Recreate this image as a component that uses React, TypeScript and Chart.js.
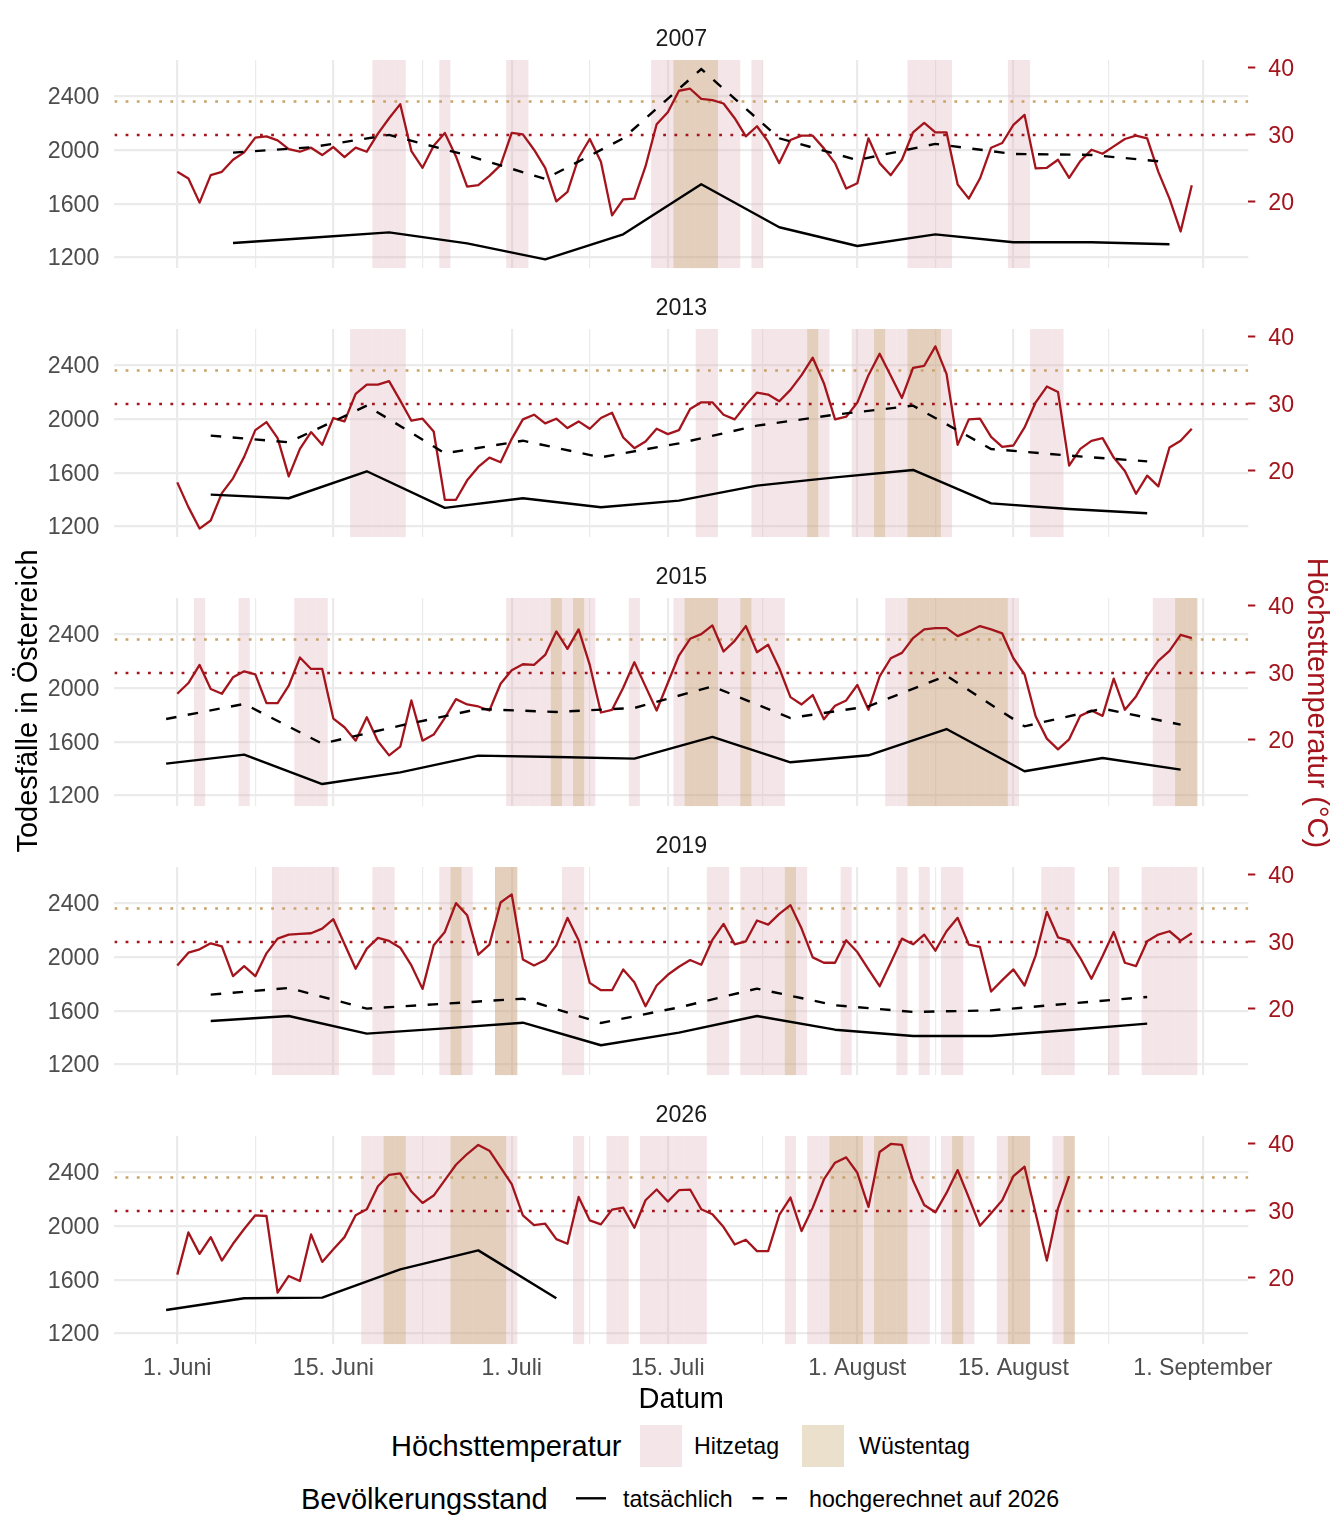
import React, { useEffect, useRef } from 'react';
import { Chart, registerables } from 'chart.js';

Chart.register(...registerables);

const FONT = "'Liberation Sans', Arial, Helvetica, sans-serif";
const RED = '#a4141c';
const TAN = '#c9a46a';
const GRID = '#ebebeb';
const TICK_TEXT = '#4d4d4d';
const HOT_FILL = 'rgba(218,172,178,0.3)';
const DESERT_FILL = 'rgba(188,152,85,0.3)';
const HOT_KEY = '#f4e6e8';
const DESERT_KEY = '#ebe0cc';

// axis ranges
const X_MIN = -5.64;
const X_MAX = 96.07;
const Y_MIN = 1118;
const Y_MAX = 2670.5;
const T_MIN = 10.1;
const T_MAX = 41.19;
const HEAT_DAY = 30;
const DESERT_DAY = 35;

// x axis: day index 0 = 1. Juni
const MAJOR_DAYS = [0, 14, 30, 44, 61, 75, 92];
const MAJOR_LABELS = ['1. Juni', '15. Juni', '1. Juli', '15. Juli', '1. August', '15. August', '1. September'];
const MINOR_DAYS = [7, 22, 37, 52.5, 68, 83.5];
const Y_GRID = [1200, 1400, 1600, 1800, 2000, 2200, 2400, 2600];
const Y_LABELS = [1200, 1600, 2000, 2400];
const TEMP_TICKS = [20, 30, 40];

const YEARS = ['2007', '2013', '2015', '2019', '2026'];

// daily maximum temperature (°C), from 1. Juni
const TEMP_2007 = [24.5, 23.5, 19.9, 24.0, 24.5, 26.3, 27.4, 29.6, 29.8, 29.2,
  27.9, 27.5, 28.1, 27.0, 28.2, 26.7, 28.1, 27.5, 30.2, 32.5,
  34.6, 27.6, 25.1, 28.4, 30.3, 26.8, 22.3, 22.5, 23.9, 25.5,
  30.3, 30.1, 27.8, 25.1, 20.1, 21.5, 26.6, 29.4, 26.0, 18.0,
  20.4, 20.5, 25.3, 31.6, 33.4, 36.6, 36.9, 35.4, 35.2, 34.7,
  32.5, 29.8, 31.3, 29.0, 25.8, 29.25, 29.9, 29.9, 28.0, 25.8,
  22.0, 22.8, 29.5, 25.8, 24.0, 26.3, 30.4, 31.8, 30.4, 30.4,
  22.6, 20.5, 23.5, 28.1, 28.8, 31.5, 33.0, 25.0, 25.1, 26.3,
  23.6, 26.1, 27.8, 27.2, 28.3, 29.4, 29.9, 29.5, 24.5, 20.5,
  15.6, 22.5];
const TEMP_2013 = [18.3, 14.6, 11.4, 12.6, 16.7, 18.9, 22.1, 26.1, 27.3, 24.9,
  19.2, 23.3, 25.8, 23.9, 27.9, 27.4, 31.5, 32.9, 32.9, 33.4,
  30.5, 27.5, 27.8, 25.9, 15.7, 15.7, 18.6, 20.6, 22.0, 21.3,
  24.8, 27.7, 28.4, 27.1, 27.8, 26.4, 27.4, 26.3, 27.9, 28.7,
  25.0, 23.4, 24.4, 26.3, 25.5, 26.1, 29.25, 30.25, 30.25, 28.4,
  27.7, 29.85, 31.7, 31.4, 30.4, 32.1, 34.3, 36.9, 33.1, 27.7,
  28.1, 30.2, 34.3, 37.5, 34.2, 30.9, 35.4, 35.7, 38.6, 34.5,
  23.9, 27.7, 27.8, 25.1, 23.6, 23.8, 26.5, 30.25, 32.6, 31.8,
  20.8, 23.3, 24.5, 24.9, 22.0, 20.0, 16.6, 19.3, 17.7, 23.5,
  24.5, 26.3];
const TEMP_2015 = [26.9, 28.5, 31.2, 27.6, 26.9, 29.35, 30.25, 29.8, 25.5, 25.5,
  28.1, 32.3, 30.6, 30.6, 23.2, 21.9, 19.9, 23.4, 19.8, 17.7,
  19.0, 25.9, 19.9, 20.8, 23.3, 26.1, 25.3, 25.0, 24.4, 28.4,
  30.4, 31.3, 31.2, 32.7, 36.2, 33.6, 36.5, 31.2, 24.1, 24.5,
  27.8, 31.6, 28.0, 24.4, 28.5, 32.6, 35.1, 35.8, 37.1, 33.2,
  34.8, 37.0, 33.1, 34.2, 30.7, 26.4, 25.3, 26.7, 23.1, 25.1,
  25.9, 28.2, 24.5, 29.5, 32.2, 33.0, 35.2, 36.5, 36.7, 36.7,
  35.5, 36.2, 37.0, 36.5, 35.9, 32.2, 29.8, 23.5, 20.2, 18.6,
  20.1, 23.6, 24.4, 23.6, 29.15, 24.5, 26.5, 29.5, 31.8, 33.3,
  35.7, 35.2];
const TEMP_2019 = [26.5, 28.4, 28.9, 29.8, 29.35, 24.9, 26.4, 24.9, 28.3, 30.5,
  31.1, 31.2, 31.3, 32.0, 33.4, 29.7, 26.0, 29.0, 30.6, 30.15,
  29.15, 26.5, 23.0, 29.5, 31.5, 35.8, 34.0, 28.1, 29.6, 35.9,
  37.1, 27.4, 26.5, 27.3, 29.5, 33.6, 30.25, 23.9, 22.8, 22.8,
  25.9, 24.0, 20.4, 23.5, 25.1, 26.3, 27.3, 26.6, 30.3, 32.7,
  29.65, 30.1, 33.2, 32.6, 34.2, 35.5, 32.0, 27.7, 26.9, 26.9,
  30.25, 28.5, 25.9, 23.4, 26.9, 30.5, 29.65, 31.1, 28.7, 31.6,
  33.6, 29.6, 29.25, 22.6, 24.3, 25.9, 23.5, 28.0, 34.5, 30.7,
  30.2, 27.6, 24.5, 27.9, 31.5, 26.9, 26.4, 30.1, 31.1, 31.6,
  30.2, 31.3];
const TEMP_2026 = [20.5, 26.8, 23.6, 26.1, 22.6, 25.1, 27.3, 29.35, 29.25, 17.8,
  20.3, 19.55, 26.5, 22.4, 24.3, 26.1, 29.35, 30.25, 33.7, 35.4,
  35.6, 32.9, 31.2, 32.3, 34.6, 36.9, 38.5, 39.85, 39.0, 36.5,
  34.0, 29.35, 27.9, 28.1, 25.8, 25.1, 32.1, 28.6, 28.0, 30.2,
  30.5, 27.5, 31.6, 33.2, 31.4, 33.1, 33.2, 30.25, 29.5, 27.6,
  25.0, 25.7, 24.0, 24.0, 29.4, 32.0, 27.0, 30.5, 34.7, 37.2,
  38.0, 35.7, 30.6, 38.8, 40.0, 39.85, 34.5, 30.9, 29.8, 32.7,
  36.1, 32.0, 27.8, 29.65, 31.6, 35.2, 36.6, 29.6, 22.6, 30.4,
  35.2];

// weekly deaths: day index of each week, actual deaths, deaths projected to 2026 population
const WEEKS_2007 = [5, 12, 19, 26, 33, 40, 47, 54, 61, 68, 75, 82, 89];
const ACTUAL_2007 = [1307, 1346, 1386, 1304, 1185, 1371, 1744, 1424, 1284, 1371, 1312, 1312, 1297];
const PROJECTED_2007 = [1980, 2020, 2112, 1960, 1784, 2087, 2603, 2087, 1925, 2045, 1970, 1963, 1908];

const WEEKS_2013 = [3, 10, 17, 24, 31, 38, 45, 52, 59, 66, 73, 80, 87];
const ACTUAL_2013 = [1436, 1409, 1610, 1337, 1409, 1342, 1391, 1503, 1565, 1620, 1371, 1329, 1297];
const PROJECTED_2013 = [1876, 1826, 2099, 1744, 1838, 1714, 1818, 1950, 2032, 2099, 1776, 1727, 1684];

const WEEKS_2015 = [-1, 6, 13, 20, 27, 34, 41, 48, 55, 62, 69, 76, 83, 90];
const ACTUAL_2015 = [1436, 1503, 1284, 1371, 1496, 1486, 1473, 1635, 1446, 1498, 1694, 1379, 1478, 1391];
const PROJECTED_2015 = [1769, 1881, 1585, 1719, 1843, 1821, 1851, 2012, 1776, 1863, 2092, 1714, 1846, 1727];

const WEEKS_2019 = [3, 10, 17, 24, 31, 38, 45, 52, 59, 66, 73, 80, 87];
const ACTUAL_2019 = [1523, 1560, 1429, 1468, 1510, 1342, 1436, 1560, 1458, 1411, 1411, 1456, 1503];
const PROJECTED_2019 = [1719, 1769, 1615, 1652, 1689, 1508, 1624, 1764, 1640, 1590, 1602, 1652, 1702];

const WEEKS_2026 = [-1, 6, 13, 20, 27, 34];
const ACTUAL_2026 = [1374, 1461, 1466, 1677, 1818, 1461];

type PanelData = {
  year: string;
  temp: number[];
  weeks: number[];
  actual: number[];
  projected: number[] | null;
};

const PANELS: PanelData[] = [
  { year: YEARS[0], temp: TEMP_2007, weeks: WEEKS_2007, actual: ACTUAL_2007, projected: PROJECTED_2007 },
  { year: YEARS[1], temp: TEMP_2013, weeks: WEEKS_2013, actual: ACTUAL_2013, projected: PROJECTED_2013 },
  { year: YEARS[2], temp: TEMP_2015, weeks: WEEKS_2015, actual: ACTUAL_2015, projected: PROJECTED_2015 },
  { year: YEARS[3], temp: TEMP_2019, weeks: WEEKS_2019, actual: ACTUAL_2019, projected: PROJECTED_2019 },
  { year: YEARS[4], temp: TEMP_2026, weeks: WEEKS_2026, actual: ACTUAL_2026, projected: null },
];

// layout (px)
const PLOT_LEFT = 114.4;
const PLOT_RIGHT = 1248.3;
const PLOT_H = 208.3;
const PANEL_STEP = 269;
const FIRST_PLOT_TOP = 60;
const TITLE_BOX = 40;

const X_TICK_DAYS = [...MAJOR_DAYS, ...MINOR_DAYS].sort((a, b) => a - b);

function zeroPad(s: any) {
  s.paddingLeft = 0;
  s.paddingRight = 0;
  s.paddingTop = 0;
  s.paddingBottom = 0;
}

function Panel({ p, index, last }: { p: PanelData; index: number; last: boolean }) {
  const ref = useRef<HTMLCanvasElement | null>(null);
  const plotTop = FIRST_PLOT_TOP + PANEL_STEP * index;
  const height = last ? 300 : 260;
  const bottomPad = last ? 0 : height - TITLE_BOX - PLOT_H;

  useEffect(() => {
    const canvas = ref.current;
    if (!canvas) return;
    const hot = p.temp.flatMap((t, d) => (t >= HEAT_DAY ? [{ x: d, y: [Y_MIN, Y_MAX] }] : []));
    const desert = p.temp.flatMap((t, d) => (t >= DESERT_DAY ? [{ x: d, y: [Y_MIN, Y_MAX] }] : []));
    const barCommon = {
      type: 'bar',
      xAxisID: 'x',
      yAxisID: 'y',
      barPercentage: 1,
      categoryPercentage: 1,
      grouped: false,
      borderWidth: 0,
      inflateAmount: 0,
    };
    const datasets: any[] = [
      {
        type: 'line',
        label: 'tatsächlich',
        data: p.weeks.map((d, i) => ({ x: d, y: p.actual[i] })),
        xAxisID: 'x',
        yAxisID: 'y',
        borderColor: '#000000',
        borderWidth: 2.4,
        pointRadius: 0,
        borderJoinStyle: 'round',
        order: 1,
      },
    ];
    if (p.projected) {
      const proj = p.projected;
      datasets.push({
        type: 'line',
        label: 'hochgerechnet auf 2026',
        data: p.weeks.map((d, i) => ({ x: d, y: proj[i] })),
        xAxisID: 'x',
        yAxisID: 'y',
        borderColor: '#000000',
        borderWidth: 2.4,
        borderDash: [10.5, 11.5],
        pointRadius: 0,
        order: 2,
      });
    }
    datasets.push(
      {
        type: 'line',
        label: 'Höchsttemperatur',
        data: p.temp.map((t, d) => ({ x: d, y: t })),
        xAxisID: 'x',
        yAxisID: 'y2',
        borderColor: RED,
        borderWidth: 2.3,
        pointRadius: 0,
        borderJoinStyle: 'round',
        order: 3,
      },
      {
        type: 'line',
        label: '30 °C',
        data: [{ x: X_MIN, y: HEAT_DAY }, { x: X_MAX, y: HEAT_DAY }],
        xAxisID: 'x',
        yAxisID: 'y2',
        borderColor: RED,
        borderWidth: 2.6,
        borderDash: [2.8, 8.4],
        borderCapStyle: 'butt',
        pointRadius: 0,
        order: 4,
      },
      {
        type: 'line',
        label: '35 °C',
        data: [{ x: X_MIN, y: DESERT_DAY }, { x: X_MAX, y: DESERT_DAY }],
        xAxisID: 'x',
        yAxisID: 'y2',
        borderColor: TAN,
        borderWidth: 2.6,
        borderDash: [2.8, 8.4],
        borderCapStyle: 'butt',
        pointRadius: 0,
        order: 5,
      },
      { ...barCommon, label: 'Wüstentag', data: desert, backgroundColor: DESERT_FILL, order: 6 },
      { ...barCommon, label: 'Hitzetag', data: hot, backgroundColor: HOT_FILL, order: 7 },
    );

    const tickFont = { family: FONT, size: 23.2 };

    const chart = new Chart(canvas, {
      type: 'line',
      data: { datasets },
      options: {
        animation: false,
        responsive: false,
        maintainAspectRatio: false,
        events: [],
        layout: { padding: { top: 0, left: 0, right: 0, bottom: bottomPad }, autoPadding: false },
        plugins: {
          legend: { display: false },
          tooltip: { enabled: false },
          title: {
            display: true,
            text: p.year,
            color: '#1a1a1a',
            font: { family: FONT, size: 23.2, weight: 'normal' },
            padding: { top: TITLE_BOX - 23.2 * 1.2 - 6.8, bottom: 6.8 },
            fullSize: false,
          },
        },
        scales: {
          x: {
            type: 'linear',
            min: X_MIN,
            max: X_MAX,
            offset: false,
            afterBuildTicks: (s: any) => {
              s.ticks = X_TICK_DAYS.map((value) => ({ value }));
            },
            afterFit: (s: any) => {
              s.height = last ? height - TITLE_BOX - PLOT_H : 0;
              zeroPad(s);
            },
            ticks: {
              display: last,
              autoSkip: false,
              maxRotation: 0,
              minRotation: 0,
              padding: 10.5,
              color: TICK_TEXT,
              font: tickFont,
              callback: (v: any) => {
                const i = MAJOR_DAYS.indexOf(Number(v));
                return i >= 0 ? MAJOR_LABELS[i] : '';
              },
            },
            grid: {
              offset: false,
              color: GRID,
              lineWidth: (ctx: any) => (ctx.tick && MAJOR_DAYS.includes(ctx.tick.value) ? 2.2 : 1.2),
              drawTicks: false,
            },
            border: { display: false },
          },
          y: {
            type: 'linear',
            position: 'left',
            min: Y_MIN,
            max: Y_MAX,
            afterBuildTicks: (s: any) => {
              s.ticks = Y_GRID.map((value) => ({ value }));
            },
            afterFit: (s: any) => {
              s.width = PLOT_LEFT;
              zeroPad(s);
            },
            ticks: {
              color: TICK_TEXT,
              padding: 15,
              labelOffset: 1.5,
              font: tickFont,
              callback: (v: any) => (Y_LABELS.includes(Number(v)) ? String(v) : ''),
            },
            grid: {
              offset: false,
              color: GRID,
              lineWidth: (ctx: any) => (ctx.tick && Y_LABELS.includes(ctx.tick.value) ? 2.2 : 1.2),
              drawTicks: false,
            },
            border: { display: false },
          },
          y2: {
            type: 'linear',
            position: 'right',
            min: T_MIN,
            max: T_MAX,
            afterBuildTicks: (s: any) => {
              s.ticks = TEMP_TICKS.map((value) => ({ value }));
            },
            afterFit: (s: any) => {
              s.width = 1344 - PLOT_RIGHT;
              zeroPad(s);
            },
            ticks: {
              color: RED,
              padding: 13,
              labelOffset: 1.5,
              font: tickFont,
              callback: (v: any) => String(v),
            },
            grid: {
              offset: false,
              drawOnChartArea: false,
              drawTicks: true,
              tickLength: 7,
              tickColor: RED,
              tickWidth: 2,
              color: RED,
            },
            border: { display: false },
          },
        },
      } as any,
    });
    return () => chart.destroy();
  }, []);

  return (
    <canvas
      ref={ref}
      width={1344}
      height={height}
      style={{ position: 'absolute', left: 0, top: plotTop - TITLE_BOX, width: 1344, height }}
    />
  );
}

const textBase: React.CSSProperties = {
  position: 'absolute',
  fontFamily: FONT,
  whiteSpace: 'nowrap',
  color: '#000000',
};

function Label({ text, left, cy, size, color, width }: { text: string; left: number; cy: number; size: number; color?: string; width?: number }) {
  const h = Math.round(size * 1.3);
  return (
    <div style={{ ...textBase, left, top: cy - h / 2, height: h, lineHeight: `${h}px`, fontSize: size, color: color || '#000000', width }}>
      {text}
    </div>
  );
}

export default function App() {
  return (
    <div style={{ position: 'absolute', left: 0, top: 0, width: 1344, height: 1536, background: '#ffffff', overflow: 'hidden' }}>
      {PANELS.map((p, i) => (
        <Panel key={p.year} p={p} index={i} last={i === PANELS.length - 1} />
      ))}

      {/* axis titles */}
      <div
        style={{
          ...textBase,
          left: 26.5 - 250,
          top: 701 - 18,
          width: 500,
          height: 36,
          lineHeight: '36px',
          fontSize: 29,
          textAlign: 'center',
          transform: 'rotate(-90deg)',
        }}
      >
        Todesfälle in Österreich
      </div>
      <div
        style={{
          ...textBase,
          left: 1318 - 250,
          top: 703 - 18,
          width: 500,
          height: 36,
          lineHeight: '36px',
          fontSize: 29,
          textAlign: 'center',
          color: RED,
          transform: 'rotate(90deg)',
        }}
      >
        Höchsttemperatur (°C)
      </div>
      <div style={{ ...textBase, left: 481.3, top: 1398 - 18, width: 400, height: 36, lineHeight: '36px', fontSize: 29, textAlign: 'center' }}>
        Datum
      </div>

      {/* legend row 1 */}
      <Label text="Höchsttemperatur" left={391} cy={1445.5} size={29} />
      <div style={{ position: 'absolute', left: 640, top: 1424.5, width: 42, height: 42, background: HOT_KEY }} />
      <Label text="Hitzetag" left={694} cy={1445.5} size={23.2} />
      <div style={{ position: 'absolute', left: 801.5, top: 1424.5, width: 42, height: 42, background: DESERT_KEY }} />
      <Label text="Wüstentag" left={859} cy={1445.5} size={23.2} />

      {/* legend row 2 */}
      <Label text="Bevölkerungsstand" left={301} cy={1498.5} size={29} />
      <svg style={{ position: 'absolute', left: 0, top: 1480 }} width={1344} height={40}>
        <line x1={576} x2={606} y1={18.3} y2={18.3} stroke="#000000" strokeWidth={2.4} />
        <line x1={752.5} x2={789} y1={18.3} y2={18.3} stroke="#000000" strokeWidth={2.4} strokeDasharray="11 12.5" />
      </svg>
      <Label text="tatsächlich" left={623} cy={1498.5} size={23.2} />
      <Label text="hochgerechnet auf 2026" left={809} cy={1498.5} size={23.2} />
    </div>
  );
}
